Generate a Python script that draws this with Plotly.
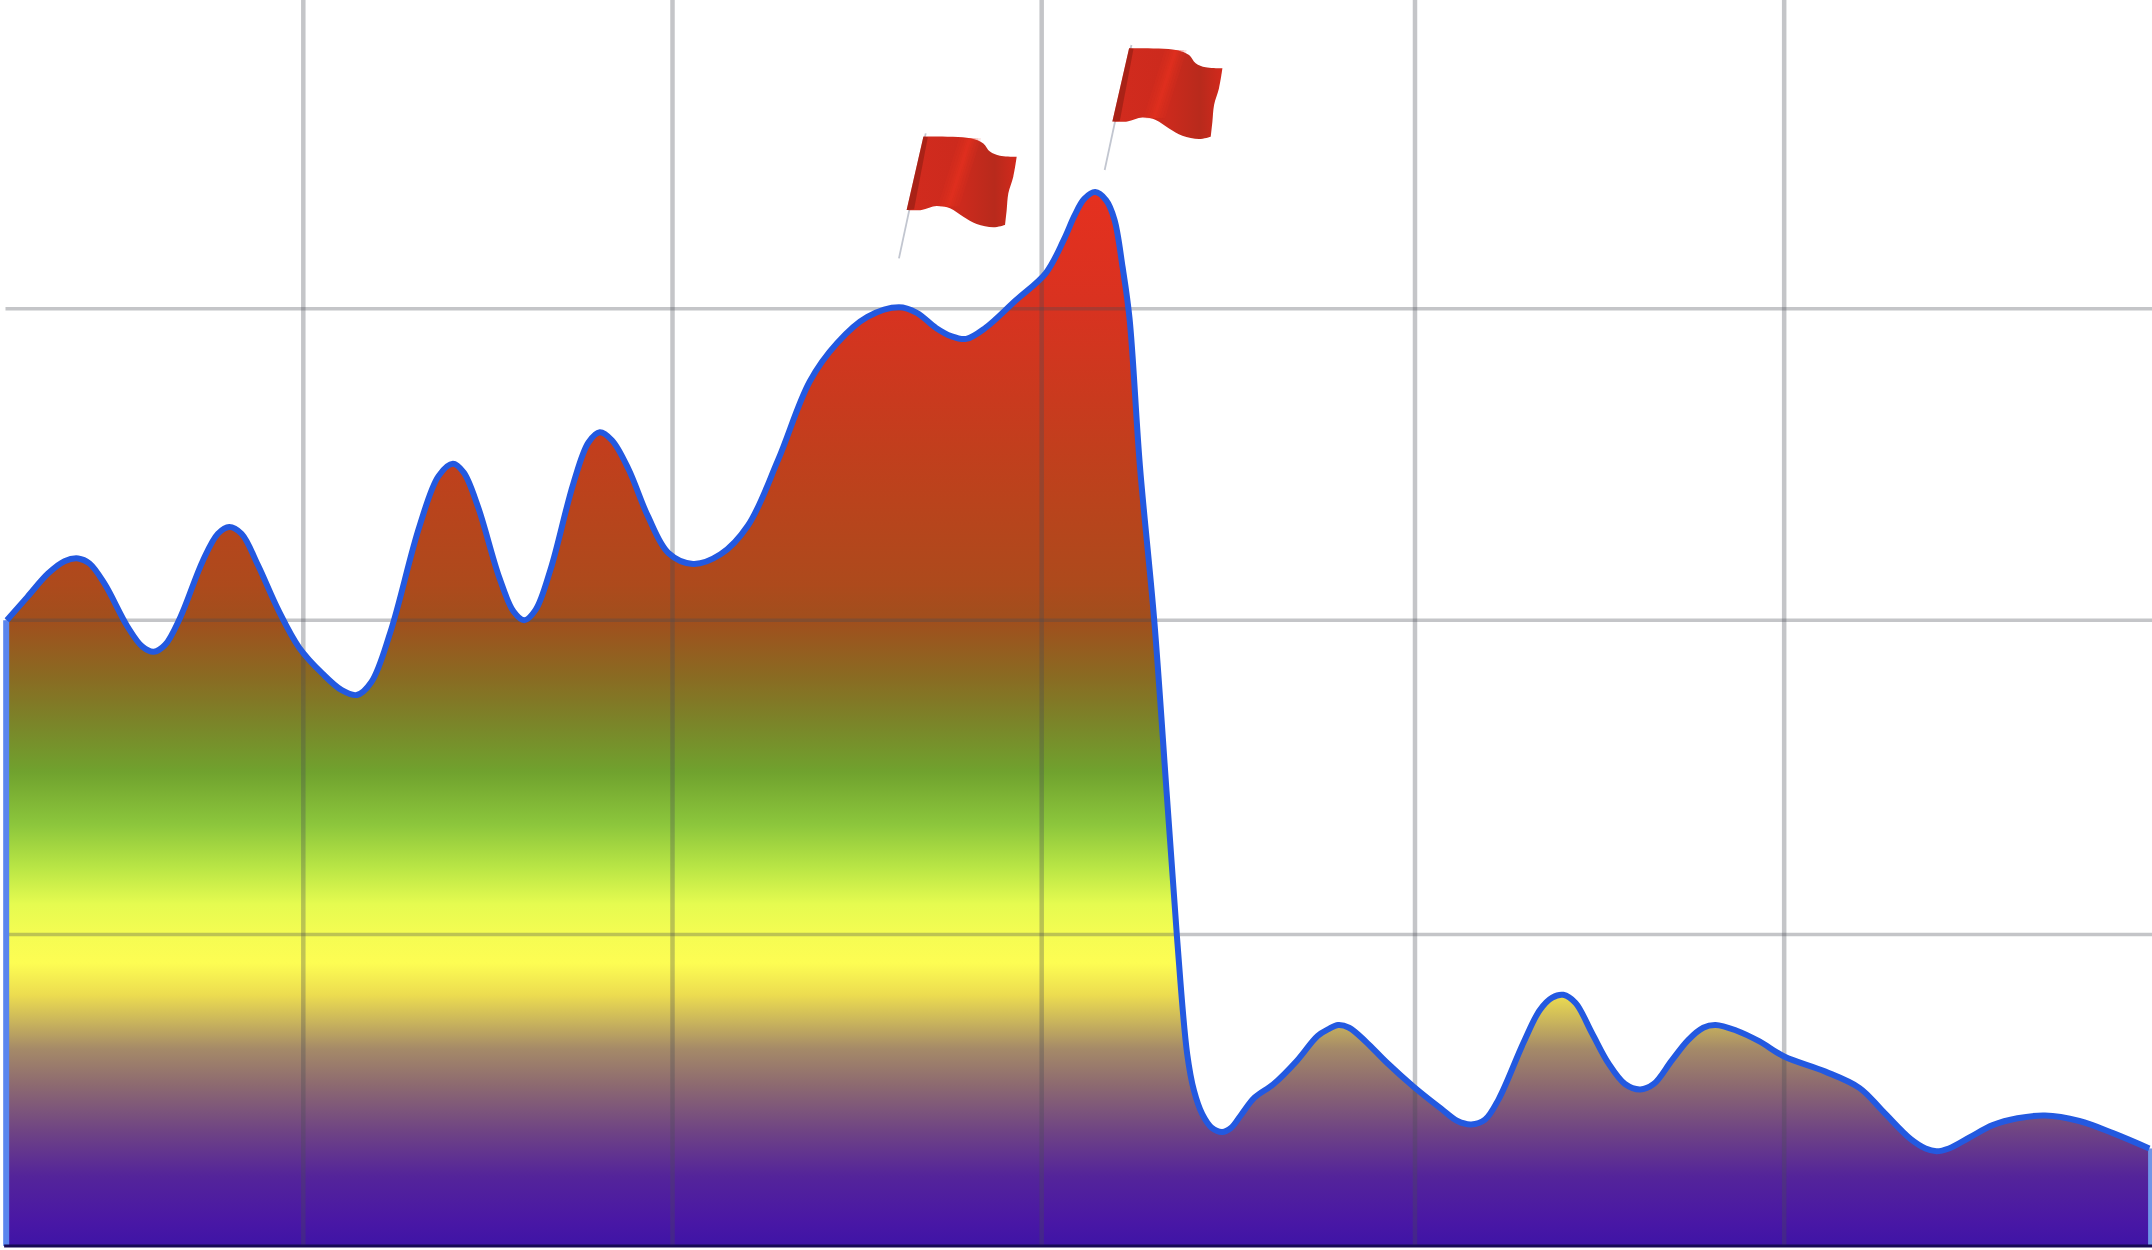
import plotly.graph_objects as go

curve_x = [5,20,35,47,57,65.25,76.25,92.75,103.75,112,120.25,131.25,147.75,158.75,167,176,188,203,218,235,249,260,270.5,284.5,305.5,319.5,330,337.8,348.2,363.8,374.2,382,390.25,401.25,417.75,428.75,437,446,458,472,487,505,525,545,567,590,610,632,655,668,682,693,704,718,740,762,775,783,790,798,806,812,818,823,830.6,841,850,857.5,865,870,876,883,890.5,897,904,914,928,945,960,968,975,983,995,1010,1030,1050,1062,1072,1082,1092,1110,1122,1131,1139,1148,1160,1172,1184,1195,1205,1218,1230,1241,1250,1265,1282,1300,1330,1355,1372,1392,1403,1411,1420,1435,1452,1470,1490,1515,1540,1566]
curve_y = [456,473,490,499,501,497.3,482.4,451.6,436.7,433,438,457.8,499.2,519,524,519,496,463,436,417,405,401.5,410.8,447.5,524,561,570,563.7,538.9,487.1,462.3,456,463.5,493.4,555.6,585.5,593,587,566,532,505,497,504,525,573,630,658,677,684,680,669,663,661,669,689,709,733,751,763,768,762,748,713,676,568,456,331,226,140,113,96,86,83,86,95,108,118,135,153,158,161,159,149,134,116,100,91,88.5,92,107,148,172,181,183,177,155,133,118,114,118,135,150,159,161,157,149,138,127,115,98,78,71,69,71,79,88,93,95,91,82,71]

x_grid = [221,490,759,1031,1300]
y_grid = [227,456,683]

grad_stops = [0.0,0.023,0.066,0.109,0.153,0.187,0.2125,0.238,0.2685,0.295,0.3245,0.36,0.40,0.45,0.497,0.541,0.593,0.627,0.708,0.803,0.897,1.0]
grad_colors = ["#3f14a6","#4917a5","#54249a","#6f4484","#8d6a70","#a58a68","#c9b45c","#ecdc50","#fdfd53","#f5fc52","#e5fb50","#b8e545","#8cc63c","#70a22e","#7b8429","#8a6a22","#a04f1d","#ad4a1c","#ba431c","#c93a1e","#d93220","#e5301f"]

flag_x = [672.8,672.8,706.8,716.5,721.3,728.6,740.8,740.8,738.3,734.7,733.5,732.3,732.3,723.8,711.6,701.9,692.2,682.5,671.5,660.6,660.6]
flag_y = [808.4,808.4,807.2,803.5,797.5,794.5,793.8,793.8,779.2,767.1,755,744,744,742.3,744.7,750,756.2,757.9,755,755,755]
pole_x = [674.5,655]
pole_y = [810.8,719.7]
flag_offsets_x = [0,149.9]
flag_offsets_y = [0,64.4]
flag_stops = [0,0.5,0.8,1]
flag_colors = ["#d22b1e","#cc2a1d","#b82a1c","#d2291c"]
edge_x = [672.8,676,666,660.6]
edge_y = [808.4,808,755.5,755]
streak_x = [706.8,691]
streak_y = [807.2,757.4]
streak_half = [8,6,4,2.5,1.2]
streak_alpha = [0.14,0.16,0.18,0.22,0.3]

fig = go.Figure()

fig.add_trace(go.Scatter(
    x=curve_x, y=curve_y, mode="none", fill="tozeroy", line=dict(shape="spline", smoothing=1.0),
    fillgradient=dict(type="vertical", start=0, stop=max(curve_y),
                      colorscale=[[s, c] for s, c in zip(grad_stops, grad_colors)]),
    showlegend=False, hoverinfo="skip"))

# grid drawn over the fill, translucent so it darkens the colours beneath
gx, gy = [], []
for v in x_grid:
    gx += [v, v, None]; gy += [0, 908, None]
fig.add_trace(go.Scatter(x=gx, y=gy, mode="lines", line=dict(color="rgba(70,75,85,0.32)", width=4.5),
                         showlegend=False, hoverinfo="skip"))
gx, gy = [], []
for v in y_grid:
    gx += [4, 1568, None]; gy += [v, v, None]
fig.add_trace(go.Scatter(x=gx, y=gy, mode="lines", line=dict(color="rgba(70,75,85,0.32)", width=3.5),
                         showlegend=False, hoverinfo="skip"))

# edges and baseline
fig.add_trace(go.Scatter(x=[4.5,4.5], y=[curve_y[0],0], mode="lines", line=dict(color="#5a85ee", width=6),
                         showlegend=False, hoverinfo="skip"))
fig.add_trace(go.Scatter(x=[1566.6,1566.6], y=[curve_y[-1],0], mode="lines", line=dict(color="#6f95e8", width=4),
                         showlegend=False, hoverinfo="skip"))
fig.add_trace(go.Scatter(x=[3,1568], y=[0,0], mode="lines", line=dict(color="#170a55", width=3),
                         showlegend=False, hoverinfo="skip"))

fig.add_trace(go.Scatter(x=curve_x, y=curve_y, mode="lines",
                         line=dict(color="#2359e0", width=6, shape="spline", smoothing=1.0),
                         showlegend=False, hoverinfo="skip"))

for dx, dy in zip(flag_offsets_x, flag_offsets_y):
    fig.add_trace(go.Scatter(x=[v+dx for v in pole_x], y=[v+dy for v in pole_y], mode="lines",
                             line=dict(color="#c2c6d0", width=1.8), showlegend=False, hoverinfo="skip"))
    fx = [v+dx for v in flag_x]
    fig.add_trace(go.Scatter(x=fx, y=[v+dy for v in flag_y], mode="none", fill="toself",
                             line=dict(shape="spline", smoothing=1.0),
                             fillgradient=dict(type="horizontal", start=min(fx), stop=max(fx),
                                               colorscale=[[s, c] for s, c in zip(flag_stops, flag_colors)]),
                             showlegend=False, hoverinfo="skip"))
    fig.add_trace(go.Scatter(x=[v+dx for v in edge_x], y=[v+dy for v in edge_y], mode="none", fill="toself",
                             fillcolor="rgba(130,25,15,0.5)", showlegend=False, hoverinfo="skip"))
    for h, a in zip(streak_half, streak_alpha):
        sx = [streak_x[0]-h, streak_x[0]+h, streak_x[1]+h, streak_x[1]-h]
        sy = [streak_y[0], streak_y[0], streak_y[1], streak_y[1]]
        fig.add_trace(go.Scatter(x=[v+dx for v in sx], y=[v+dy for v in sy], mode="none", fill="toself",
                                 fillcolor=f"rgba(232,48,34,{a})", showlegend=False, hoverinfo="skip"))

fig.update_layout(
    width=2152, height=1250, margin=dict(l=0, r=0, t=0, b=0),
    paper_bgcolor="white", plot_bgcolor="white", showlegend=False,
    xaxis=dict(range=[0,1568], visible=False, fixedrange=True),
    yaxis=dict(range=[-3,908], visible=False, fixedrange=True),
)
fig.write_html("out.html", config=dict(displayModeBar=False),
               post_script="document.body.style.margin='0';document.documentElement.style.overflow='hidden';")
